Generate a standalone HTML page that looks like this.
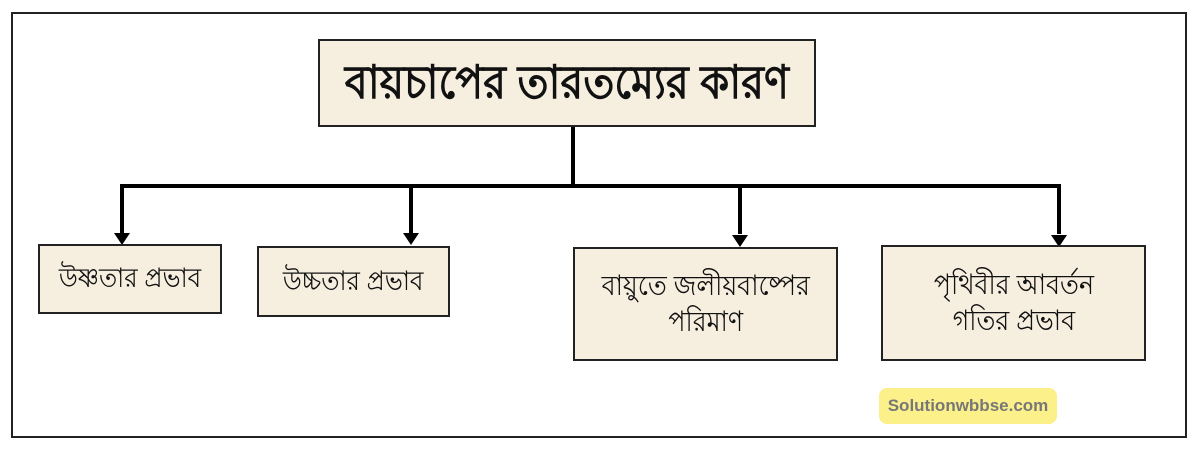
<!DOCTYPE html>
<html><head><meta charset="utf-8"><style>
body{margin:0;width:1200px;height:453px;background:#fff;position:relative;overflow:hidden;font-family:"Liberation Sans",sans-serif}
.b{position:absolute;background:#f6efe0;border:2px solid #222;box-sizing:border-box;display:flex;align-items:center;justify-content:center;text-align:center;color:#111;line-height:1.3}
.b span{display:inline-block;transform:scaleX(0.9)}
.l{position:absolute;background:#000}
.a{position:absolute;width:0;height:0;border-left:8px solid transparent;border-right:8px solid transparent;border-top:12px solid #000}
</style></head><body>
<div style="position:absolute;left:11px;top:12px;width:1176px;height:426px;border:2px solid #222;box-sizing:border-box"></div>
<div class="b" style="left:318px;top:39px;width:498px;height:88px;font-size:46px;font-weight:bold"><span>বায়চাপের তারতম্যের কারণ</span></div>
<div class="l" style="left:571px;top:127px;width:4px;height:59px"></div>
<div class="l" style="left:120px;top:184px;width:941px;height:4px"></div>
<div class="l" style="left:120px;top:184px;width:4px;height:50px"></div>
<div class="l" style="left:409px;top:184px;width:4px;height:50px"></div>
<div class="l" style="left:738px;top:184px;width:4px;height:50px"></div>
<div class="l" style="left:1057px;top:184px;width:4px;height:50px"></div>
<div class="a" style="left:114px;top:233px"></div>
<div class="a" style="left:403px;top:233px"></div>
<div class="a" style="left:732px;top:235px"></div>
<div class="a" style="left:1051px;top:235px"></div>
<div class="b" style="left:38px;top:244px;width:184px;height:70px;font-size:27px"><span>উষ্ণতার প্রভাব</span></div>
<div class="b" style="left:257px;top:246px;width:193px;height:71px;font-size:27px"><span>উচ্চতার প্রভাব</span></div>
<div class="b" style="left:573px;top:247px;width:265px;height:114px;font-size:28px"><span>বায়ুতে জলীয়বাষ্পের<br>পরিমাণ</span></div>
<div class="b" style="left:881px;top:245px;width:265px;height:116px;font-size:28px"><span>পৃথিবীর আবর্তন<br>গতির প্রভাব</span></div>
<div style="position:absolute;left:879px;top:388px;width:178px;height:36px;background:#fbf08a;border-radius:8px;display:flex;align-items:center;justify-content:center;font-size:17px;font-weight:bold;color:#777">Solutionwbbse.com</div>
</body></html>
